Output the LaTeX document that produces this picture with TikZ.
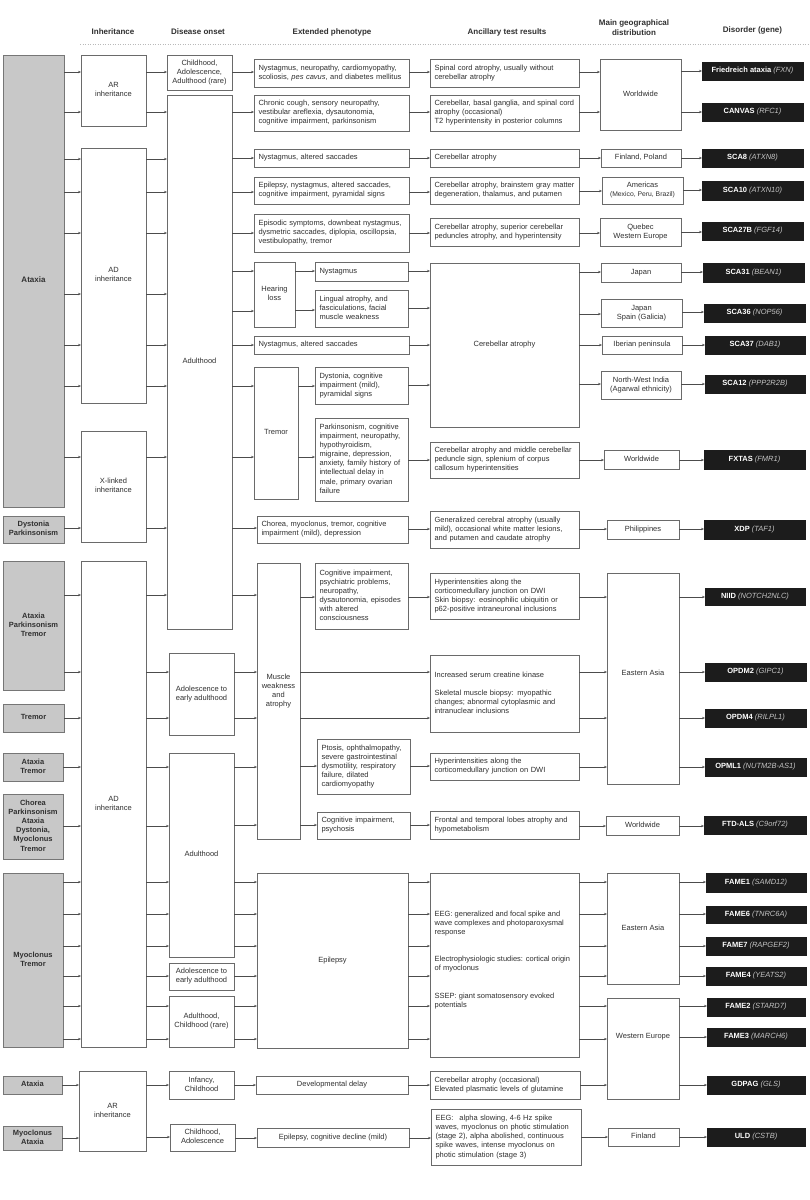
\documentclass[tikz,border=0pt]{standalone}
\usepackage{fontspec}
\setmainfont{Liberation Sans}
\usetikzlibrary{arrows.meta}
\definecolor{bordc}{HTML}{6A6A6A}
\definecolor{txtc}{HTML}{303030}
\definecolor{grayf}{HTML}{C8C8C8}
\definecolor{grayd}{HTML}{767676}
\definecolor{blk}{HTML}{1C1C1C}
\definecolor{genec}{HTML}{C4C4C4}
\definecolor{arrc}{HTML}{4C4C4C}
\newcommand\fs{\fontsize{7.5}{9.1}\selectfont}
\newcommand\gn[1]{{\mdseries\itshape\color{genec}(#1)}}
\newcommand\Bx[7]{\node[#1,minimum width={(#4-#2)*1pt},minimum height={(#5-#3)*1pt}] (#6) at ({(#2+#4)/2},{(#3+#5)/2}) {\begin{tabular}{@{}c@{}}#7\end{tabular}}}
\newcommand\Lx[6]{\pgfmathsetmacro\mytw{#3-#1-9}\node[lbox,minimum width={(#3-#1)*1pt},minimum height={(#4-#2)*1pt},text width=\mytw pt] (#5) at ({(#1+#3)/2},{(#2+#4)/2}) {\begin{tabular}{@{}l@{}}#6\end{tabular}};}
\newcommand\Ar[3]{\draw[arr] (#1.east|-0,#3) -- (#2.west|-0,#3);}
\tikzset{
  basebox/.style={draw=bordc, line width=0.65pt, outer sep=0pt, inner sep=0pt, font=\fs, text=txtc},
  wbox/.style={basebox, align=center},
  lbox/.style={basebox, align=left, inner xsep=4.5pt},
  gbox/.style={basebox, fill=grayf, draw=grayd, align=center, font=\fs\bfseries},
  dbox/.style={basebox, fill=blk, draw=blk, text=white, font=\fs\bfseries},
  ctext/.style={font=\fs, text=txtc, align=center, inner sep=0pt},
  ltext/.style={font=\fs, text=txtc, inner sep=0pt},
  hdr/.style={font=\fontsize{8}{9.6}\selectfont\bfseries, text=txtc, inner sep=0pt, align=center},
  arr/.style={draw=arrc, line width=0.5pt, -{Stealth[length=3pt,width=2.4pt]}},
}
\begin{document}
\begin{tikzpicture}[x=1pt,y=-1pt]
\fill[white] (0,0) rectangle (809,1200);
\useasboundingbox (0,0) rectangle (809,1200);
% headers
\node[hdr] (hInh) at (113,32) {Inheritance};
\node[hdr] (hOns) at (198,32) {Disease onset};
\node[hdr] (hPhe) at (332,32) {Extended phenotype};
\node[hdr] (hAnc) at (507,32) {Ancillary test results};
\node[hdr] (hGeo) at (634,27.5) {Main geographical\\distribution};
\node[hdr] (hDis) at (752.5,30) {Disorder (gene)};
\coordinate (dl1) at (80,44); \coordinate (dl2) at (809,44);
\draw[dotted, line width=0.5pt, draw=gray!55] (dl1) -- (dl2);
% column 1
\Bx{gbox,font=\fontsize{8}{9.1}\selectfont\bfseries}{3}{55}{64}{507}{g1}{Ataxia};
\Bx{gbox}{3}{516}{64}{543}{g2}{Dystonia\\Parkinsonism};
\Bx{gbox}{3}{561}{64}{690}{g3}{Ataxia\\Parkinsonism\\Tremor};
\Bx{gbox}{3}{704}{64}{732}{g4}{Tremor};
\Bx{gbox}{3}{753}{63}{781}{g5}{Ataxia\\Tremor};
\Bx{gbox}{3}{794}{63}{859}{g6}{Chorea\\Parkinsonism\\Ataxia\\Dystonia,\\Myoclonus\\Tremor};
\Bx{gbox}{3}{873}{63}{1047}{g7}{Myoclonus\\Tremor};
\Bx{gbox}{3}{1076}{62}{1094}{g8}{Ataxia};
\Bx{gbox}{3}{1126}{62}{1150}{g9}{Myoclonus\\Ataxia};
% column 2
\Bx{wbox}{81}{55}{146}{126}{i1}{AR\\inheritance};
\Bx{wbox}{81}{148}{146}{403}{i2}{AD\\inheritance};
\Bx{wbox}{81}{431}{146}{542}{i3}{X-linked\\inheritance};
\Bx{wbox}{81}{561}{146}{1047}{i4}{AD\\inheritance};
\Bx{wbox}{79}{1071}{146}{1151}{i5}{AR\\inheritance};
% column 3
\Bx{wbox}{167}{55}{232}{90}{o1}{Childhood,\\Adolescence,\\Adulthood (rare)};
\Bx{wbox}{167}{95}{232}{629}{o2}{Adulthood};
\Bx{wbox}{169}{653}{234}{735}{o3}{Adolescence to\\early adulthood};
\Bx{wbox}{169}{753}{234}{957}{o4}{Adulthood};
\Bx{wbox}{169}{963}{234}{990}{o5}{Adolescence to\\early adulthood};
\Bx{wbox}{169}{996}{234}{1047}{o6}{Adulthood,\\Childhood (rare)};
\Bx{wbox}{169}{1071}{234}{1099}{o7}{Infancy,\\Childhood};
\Bx{wbox}{170}{1124}{235}{1151}{o8}{Childhood,\\Adolescence};
% column 4
\Lx{254}{59}{409}{87}{e1}{Nystagmus, neuropathy, cardiomyopathy,\\scoliosis, \textit{pes cavus}, and diabetes mellitus}
\Lx{254}{95}{409}{131}{e2}{Chronic cough, sensory neuropathy,\\vestibular areflexia, dysautonomia,\\cognitive impairment, parkinsonism}
\Lx{254}{149}{409}{167}{e3}{Nystagmus, altered saccades}
\Lx{254}{177}{409}{204}{e4}{Epilepsy, nystagmus, altered saccades,\\cognitive impairment, pyramidal signs}
\Lx{254}{214}{409}{252}{e5}{Episodic symptoms, downbeat nystagmus,\\dysmetric saccades, diplopia, oscillopsia,\\vestibulopathy, tremor}
\Bx{wbox}{254}{262}{295}{327}{eH}{Hearing\\loss};
\Lx{315}{262}{408}{281}{e6}{Nystagmus}
\Lx{315}{290}{408}{327}{e7}{Lingual atrophy, and\\fasciculations, facial\\muscle weakness}
\Lx{254}{336}{409}{354}{e8}{Nystagmus, altered saccades}
\Bx{wbox}{254}{367}{298}{499}{eT}{Tremor};
\Lx{315}{367}{408}{404}{e9}{Dystonia, cognitive\\impairment (mild),\\pyramidal signs}
\Lx{315}{418}{408}{501}{e10}{Parkinsonism, cognitive\\impairment, neuropathy,\\hypothyroidism,\\migraine, depression,\\anxiety, family history of\\intellectual delay in\\male, primary ovarian\\failure}
\Lx{257}{516}{408}{543}{e11}{Chorea, myoclonus, tremor, cognitive\\impairment (mild), depression}
\Bx{wbox}{257}{563}{300}{839}{eM}{};
\node[ctext] (eMt) at (278.5,691) {Muscle\\weakness\\and\\atrophy};
\Lx{315}{563}{408}{629}{e12}{Cognitive impairment,\\psychiatric problems,\\neuropathy,\\dysautonomia, episodes\\with altered\\consciousness}
\Lx{317}{739}{410}{794}{e13}{Ptosis, ophthalmopathy,\\severe gastrointestinal\\dysmotility, respiratory\\failure, dilated\\cardiomyopathy}
\Lx{317}{812}{410}{839}{e14}{Cognitive impairment,\\psychosis}
\Bx{wbox}{257}{873}{408}{1048}{eE}{Epilepsy};
\Bx{wbox}{256}{1076}{408}{1094}{e15}{Developmental delay};
\Bx{wbox}{257}{1128}{409}{1147}{e16}{Epilepsy, cognitive decline (mild)};
% column 5
\Lx{430}{59}{579}{87}{a1}{Spinal cord atrophy, usually without\\cerebellar atrophy}
\Lx{430}{95}{579}{131}{a2}{Cerebellar, basal ganglia, and spinal cord\\atrophy (occasional)\\T2 hyperintensity in posterior columns}
\Lx{430}{149}{579}{167}{a3}{Cerebellar atrophy}
\Lx{430}{177}{579}{204}{a4}{Cerebellar atrophy, brainstem gray matter\\degeneration, thalamus, and putamen}
\Lx{430}{218}{579}{246}{a5}{Cerebellar atrophy, superior cerebellar\\peduncles atrophy, and hyperintensity}
\Bx{wbox}{430}{263}{579}{427}{a6}{Cerebellar atrophy};
\Lx{430}{442}{579}{478}{a7}{Cerebellar atrophy and middle cerebellar\\peduncle sign, splenium of corpus\\callosum hyperintensities}
\Lx{430}{511}{579}{548}{a8}{Generalized cerebral atrophy (usually\\mild), occasional white matter lesions,\\and putamen and caudate atrophy}
\Lx{430}{573}{579}{619}{a9}{Hyperintensities along the\\corticomedullary junction on DWI\\Skin biopsy: eosinophilic ubiquitin or\\p62-positive intraneuronal inclusions}
\Lx{430}{655}{579}{732}{a10}{Increased serum creatine kinase\\[9pt]Skeletal muscle biopsy: myopathic\\changes; abnormal cytoplasmic and\\intranuclear inclusions}
\Lx{430}{753}{579}{780}{a11}{Hyperintensities along the\\corticomedullary junction on DWI}
\Lx{430}{811}{579}{839}{a12}{Frontal and temporal lobes atrophy and\\hypometabolism}
\Bx{wbox}{430}{873}{579}{1057}{a13}{};
\node[ltext, anchor=base west] (a13t) at (434.5,916.5) {\begin{tabular}[t]{@{}l@{}}EEG: generalized and focal spike and\\wave complexes and photoparoxysmal\\response\\[18pt]Electrophysiologic studies: cortical origin\\of myoclonus\\[18pt]SSEP: giant somatosensory evoked\\potentials\end{tabular}};
\Lx{430}{1071}{580}{1099}{a14}{Cerebellar atrophy (occasional)\\Elevated plasmatic levels of glutamine}
\Lx{431}{1109}{581}{1165}{a15}{EEG:\hspace{6pt}alpha slowing, 4-6 Hz spike\\waves, myoclonus on photic stimulation\\(stage 2), alpha abolished, continuous\\spike waves, intense myoclonus on\\photic stimulation (stage 3)}
% column 6
\Bx{wbox}{600}{59}{681}{130}{m1}{Worldwide};
\Bx{wbox}{601}{149}{681}{167}{m2}{Finland, Poland};
\Bx{wbox}{602}{177}{683}{204}{m3}{Americas\\{\fontsize{6.8}{8}\selectfont(Mexico, Peru, Brazil)}};
\Bx{wbox}{600}{218}{681}{246}{m4}{Quebec\\Western Europe};
\Bx{wbox}{601}{263}{681}{282}{m5}{Japan};
\Bx{wbox}{601}{299}{682}{327}{m6}{Japan\\Spain (Galicia)};
\Bx{wbox}{602}{336}{682}{354}{m7}{Iberian peninsula};
\Bx{wbox}{601}{371}{681}{399}{m8}{North-West India\\(Agarwal ethnicity)};
\Bx{wbox}{604}{450}{679}{469}{m9}{Worldwide};
\Bx{wbox}{607}{520}{679}{539}{m10}{Philippines};
\Bx{wbox}{607}{573}{679}{784}{m11}{};
\node[ctext] (m11t) at (643,673) {Eastern Asia};
\Bx{wbox}{606}{816}{679}{835}{m12}{Worldwide};
\Bx{wbox}{607}{873}{679}{984}{m13}{Eastern Asia};
\Bx{wbox}{607}{998}{679}{1099}{m14}{};
\node[ctext] (m14t) at (643,1037) {Western Europe};
\Bx{wbox}{608}{1128}{679}{1146}{m15}{Finland};
% column 7
\Bx{dbox}{702}{62}{803}{80}{d1}{Friedreich ataxia \gn{FXN}};
\Bx{dbox}{702}{103}{803}{121}{d2}{CANVAS \gn{RFC1}};
\Bx{dbox}{702}{149}{803}{167}{d3}{SCA8 \gn{ATXN8}};
\Bx{dbox}{702}{181}{803}{200}{d4}{SCA10 \gn{ATXN10}};
\Bx{dbox}{702}{222}{803}{240}{d5}{SCA27B \gn{FGF14}};
\Bx{dbox}{703}{263}{804}{282}{d6}{SCA31 \gn{BEAN1}};
\Bx{dbox}{704}{304}{805}{322}{d7}{SCA36 \gn{NOP56}};
\Bx{dbox}{705}{336}{805}{354}{d8}{SCA37 \gn{DAB1}};
\Bx{dbox}{705}{375}{805}{393}{d9}{SCA12 \gn{PPP2R2B}};
\Bx{dbox}{704}{450}{805}{469}{d10}{FXTAS \gn{FMR1}};
\Bx{dbox}{704}{520}{805}{539}{d11}{XDP \gn{TAF1}};
\Bx{dbox}{705}{588}{805}{605}{d12}{NIID \gn{NOTCH2NLC}};
\Bx{dbox}{705}{663}{806}{681}{d13}{OPDM2 \gn{GIPC1}};
\Bx{dbox}{705}{709}{806}{727}{d14}{OPDM4 \gn{RILPL1}};
\Bx{dbox}{705}{758}{806}{776}{d15}{OPML1 \gn{NUTM2B-AS1}};
\Bx{dbox}{704}{816}{806}{834}{d16}{FTD-ALS \gn{C9orf72}};
\Bx{dbox}{706}{873}{806}{892}{d17}{FAME1 \gn{SAMD12}};
\Bx{dbox}{706}{906}{806}{923}{d18}{FAME6 \gn{TNRC6A}};
\Bx{dbox}{706}{937}{806}{955}{d19}{FAME7 \gn{RAPGEF2}};
\Bx{dbox}{706}{967}{806}{985}{d20}{FAME4 \gn{YEATS2}};
\Bx{dbox}{707}{998}{805}{1016}{d21}{FAME2 \gn{STARD7}};
\Bx{dbox}{707}{1028}{805}{1046}{d22}{FAME3 \gn{MARCH6}};
\Bx{dbox}{707}{1076}{805}{1094}{d23}{GDPAG \gn{GLS}};
\Bx{dbox}{707}{1128}{805}{1146}{d24}{ULD \gn{CSTB}};
% arrows col1 -> col2
\Ar{g1}{i1}{72}\Ar{g1}{i1}{112}
\foreach \yy in {159,192,233,294,345,386} {\Ar{g1}{i2}{\yy}}
\Ar{g1}{i3}{457}\Ar{g2}{i3}{528}
\Ar{g3}{i4}{595}\Ar{g3}{i4}{672}\Ar{g4}{i4}{718}\Ar{g5}{i4}{767}\Ar{g6}{i4}{826}
\foreach \yy in {882,914,946,976,1006,1039} {\Ar{g7}{i4}{\yy}}
\Ar{g8}{i5}{1085}\Ar{g9}{i5}{1138}
% col2 -> col3
\Ar{i1}{o1}{72}\Ar{i1}{o2}{112}
\foreach \yy in {159,192,233,294,345,386} {\Ar{i2}{o2}{\yy}}
\Ar{i3}{o2}{457}\Ar{i3}{o2}{528}
\Ar{i4}{o2}{595}\Ar{i4}{o3}{672}\Ar{i4}{o3}{718}
\foreach \yy in {767,826,882,914,946} {\Ar{i4}{o4}{\yy}}
\Ar{i4}{o5}{976}\Ar{i4}{o6}{1006}\Ar{i4}{o6}{1039}
\Ar{i5}{o7}{1085}\Ar{i5}{o8}{1137}
% col3 -> col4
\Ar{o1}{e1}{72}\Ar{o2}{e2}{112}\Ar{o2}{e3}{158}\Ar{o2}{e4}{192}\Ar{o2}{e5}{233}
\Ar{o2}{eH}{271}\Ar{o2}{eH}{311}\Ar{o2}{e8}{345}\Ar{o2}{eT}{386}\Ar{o2}{eT}{457}
\Ar{o2}{e11}{528}\Ar{o2}{eM}{595}\Ar{o3}{eM}{672}\Ar{o3}{eM}{718}
\Ar{o4}{eM}{767}\Ar{o4}{eM}{825}
\Ar{o4}{eE}{882}\Ar{o4}{eE}{914}\Ar{o4}{eE}{946}\Ar{o5}{eE}{976}
\Ar{o6}{eE}{1006}\Ar{o6}{eE}{1039}\Ar{o7}{e15}{1085}\Ar{o8}{e16}{1138}
% inner
\Ar{eH}{e6}{271}\Ar{eH}{e7}{310}\Ar{eT}{e9}{386}\Ar{eT}{e10}{457}
\Ar{eM}{e12}{597}\Ar{eM}{e13}{766}\Ar{eM}{e14}{825}
% col4 -> col5
\Ar{e1}{a1}{72}\Ar{e2}{a2}{112}\Ar{e3}{a3}{158}\Ar{e4}{a4}{192}\Ar{e5}{a5}{233}
\Ar{e6}{a6}{271}\Ar{e7}{a6}{308}\Ar{e8}{a6}{345}\Ar{e9}{a6}{385}
\Ar{e10}{a7}{460}\Ar{e11}{a8}{529}\Ar{e12}{a9}{597}
\Ar{eM}{a10}{672}\Ar{eM}{a10}{718}\Ar{e13}{a11}{766}\Ar{e14}{a12}{825}
\foreach \yy in {882,914,946,976,1006,1039} {\Ar{eE}{a13}{\yy}}
\Ar{e15}{a14}{1085}\Ar{e16}{a15}{1138}
% col5 -> col6
\Ar{a1}{m1}{72}\Ar{a2}{m1}{112}\Ar{a3}{m2}{158}\Ar{a4}{m3}{191}\Ar{a5}{m4}{233}
\Ar{a6}{m5}{272}\Ar{a6}{m6}{314}\Ar{a6}{m7}{345}\Ar{a6}{m8}{384}
\Ar{a7}{m9}{460}\Ar{a8}{m10}{529}\Ar{a9}{m11}{597}
\Ar{a10}{m11}{672}\Ar{a10}{m11}{718}\Ar{a11}{m11}{767}\Ar{a12}{m12}{826}
\foreach \yy in {882,914,946,976} {\Ar{a13}{m13}{\yy}}
\Ar{a13}{m14}{1006}\Ar{a13}{m14}{1039}\Ar{a14}{m14}{1085}\Ar{a15}{m15}{1137}
% col6 -> col7
\Ar{m1}{d1}{71}\Ar{m1}{d2}{112}\Ar{m2}{d3}{158}\Ar{m3}{d4}{190}\Ar{m4}{d5}{232}
\Ar{m5}{d6}{272}\Ar{m6}{d7}{312}\Ar{m7}{d8}{345}\Ar{m8}{d9}{384}
\Ar{m9}{d10}{460}\Ar{m10}{d11}{529}\Ar{m11}{d12}{597}\Ar{m11}{d13}{672}
\Ar{m11}{d14}{718}\Ar{m11}{d15}{767}\Ar{m12}{d16}{826}
\Ar{m13}{d17}{882}\Ar{m13}{d18}{914}\Ar{m13}{d19}{946}\Ar{m13}{d20}{976}
\Ar{m14}{d21}{1006}\Ar{m14}{d22}{1037}\Ar{m14}{d23}{1085}\Ar{m15}{d24}{1137}
\end{tikzpicture}
\end{document}
